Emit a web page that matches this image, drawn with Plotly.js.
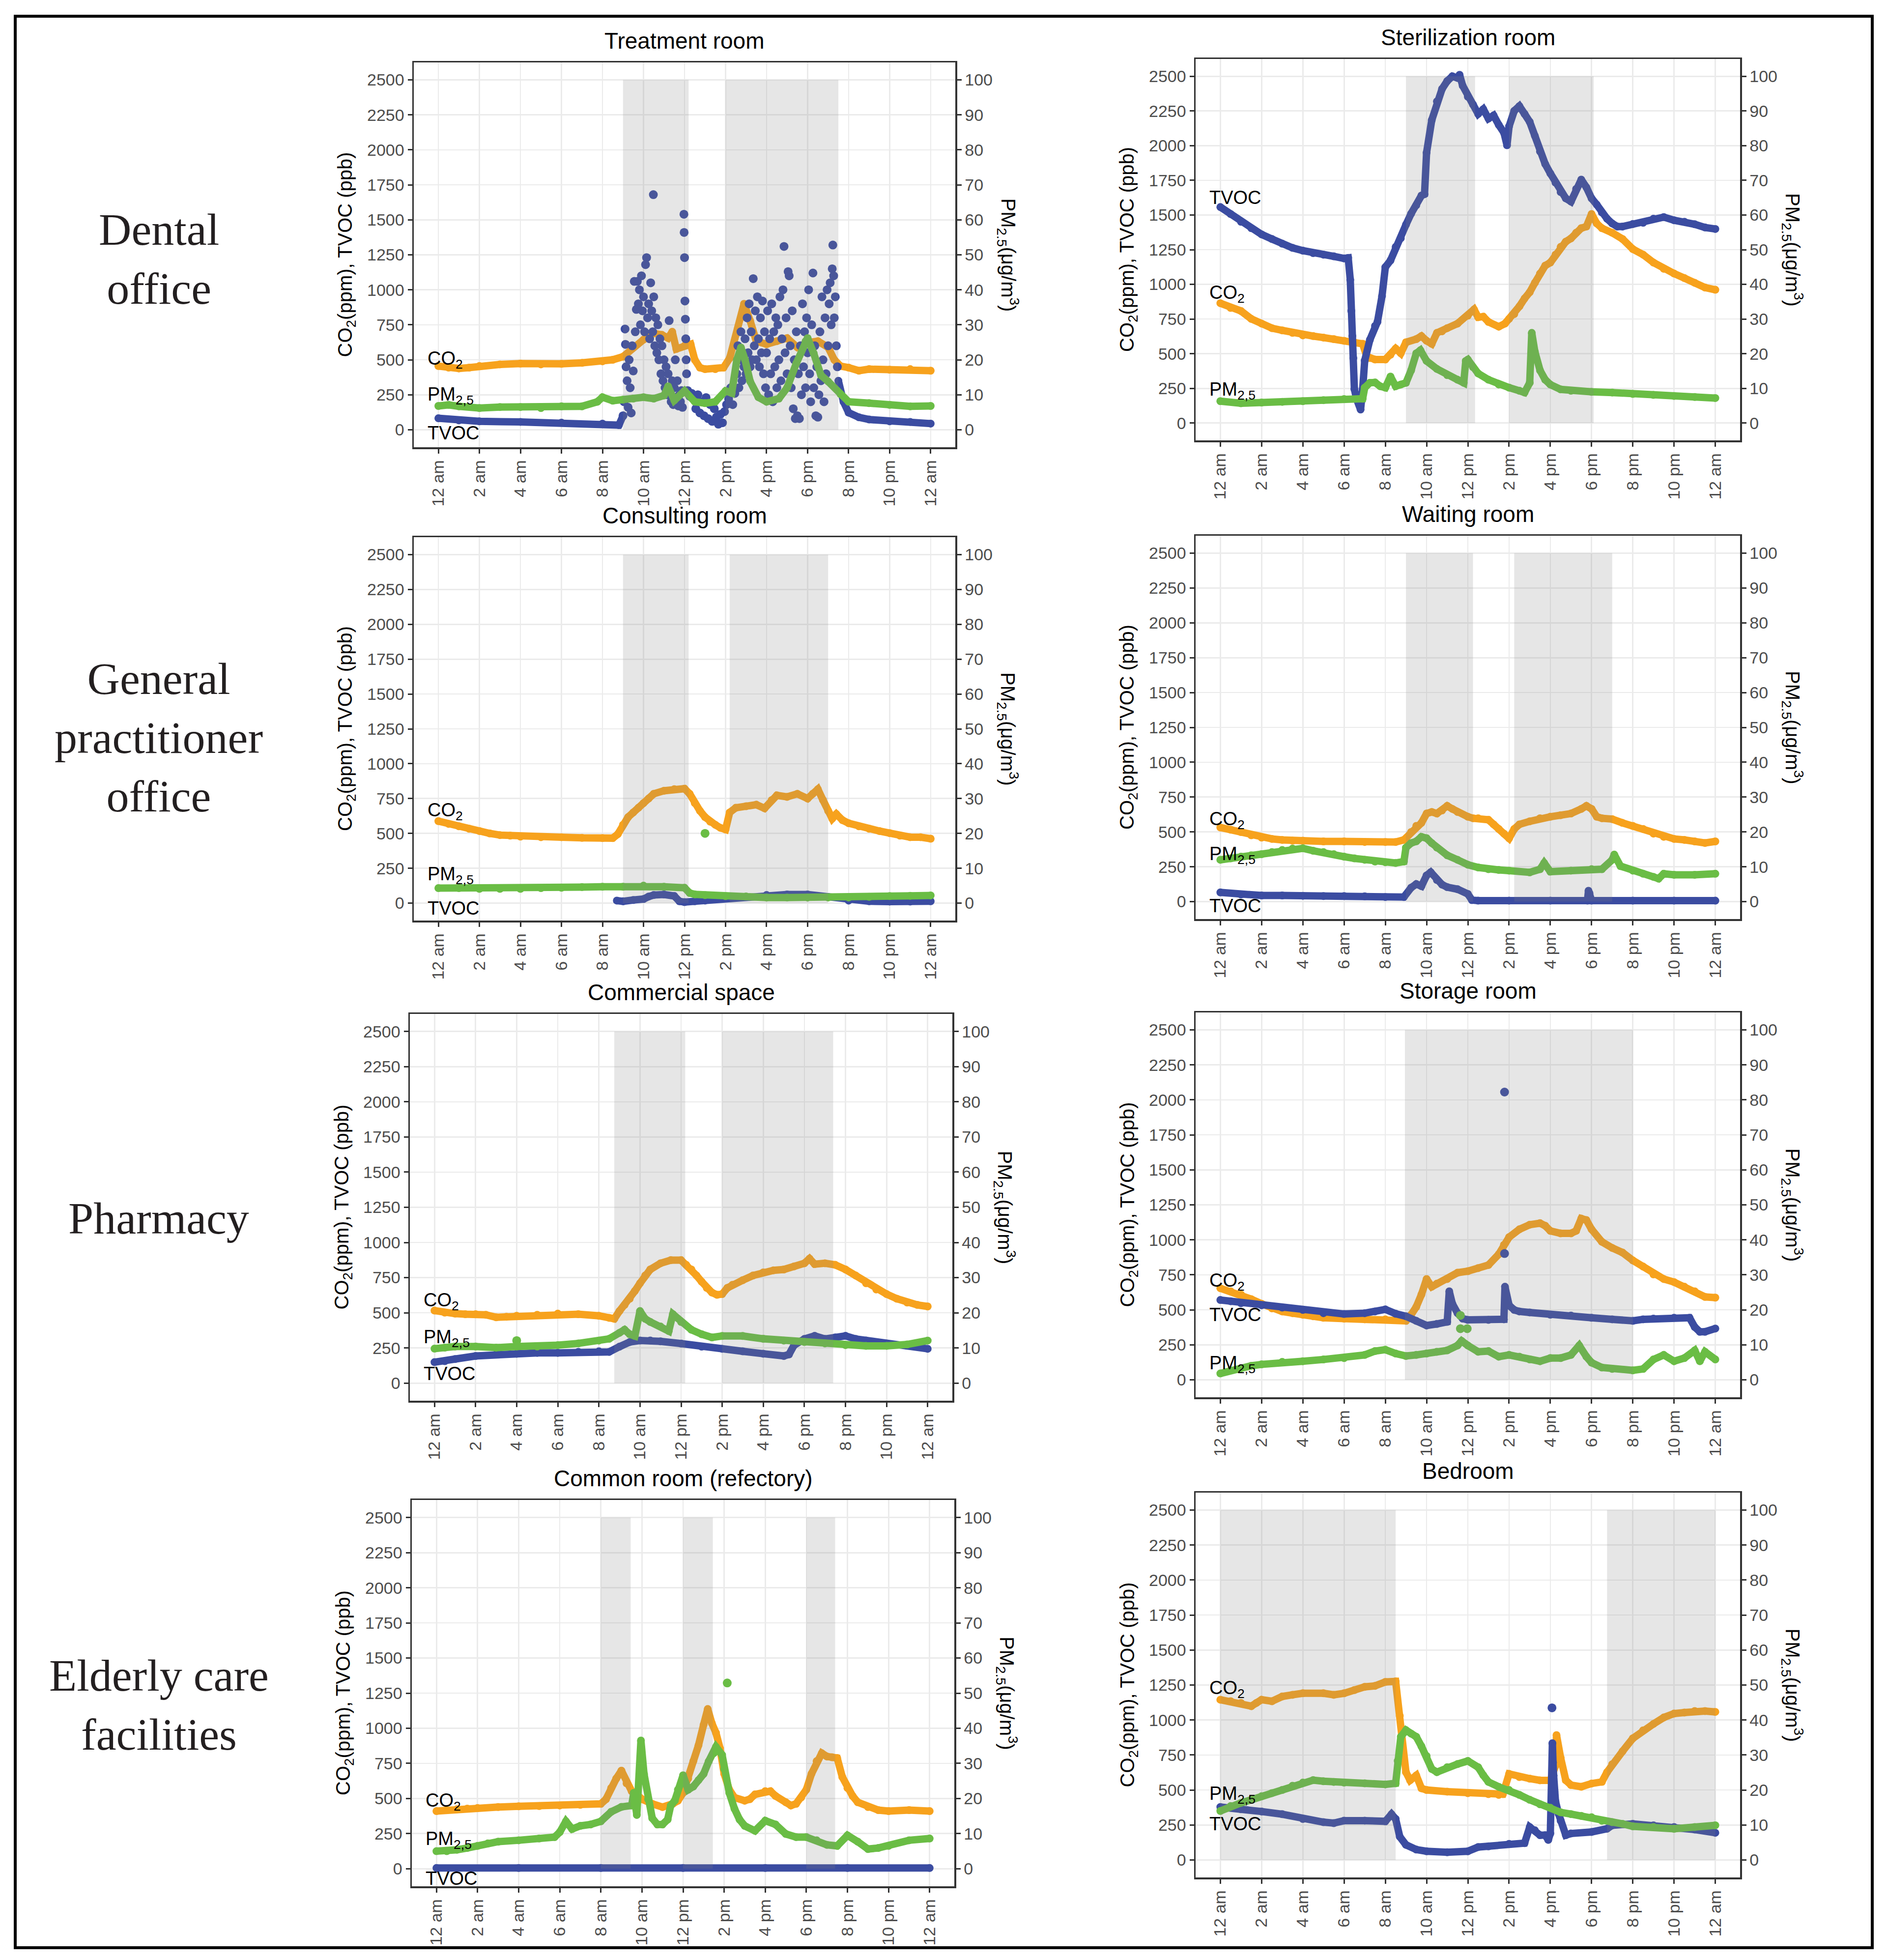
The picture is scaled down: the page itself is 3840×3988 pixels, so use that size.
<!DOCTYPE html>
<html><head><meta charset="utf-8">
<script src="https://cdn.plot.ly/plotly-3.0.1.min.js"></script>
<style>html,body{margin:0;padding:0;background:#fff}#chart{width:3840px;height:3988px}</style>
</head><body><div id="chart"></div>
<script>
// ---------- tick labels ----------
const xTickVals = [0,2,4,6,8,10,12,14,16,18,20,22,24];
const xTickText = ['12 am','2 am','4 am','6 am','8 am','10 am','12 pm','2 pm','4 pm','6 pm','8 pm','10 pm','12 am'];
const yLeftTicks = [0,250,500,750,1000,1250,1500,1750,2000,2250,2500];
const yRightTicks = [0,10,20,30,40,50,60,70,80,90,100];
const rowLabels = ['Dental<br>office','General<br>practitioner<br>office','Pharmacy','Elderly care<br>facilities'];
const panelTitles = ['Treatment room','Sterilization room','Consulting room','Waiting room','Commercial space','Storage room','Common room (refectory)','Bedroom'];

// ---------- Treatment room ----------
const treat_co2_t = [0,0.5,1,1.5,2,3,4,5,6,7,8,8.5,9,9.5,10,10.5,10.9,11.2,11.4,11.6,12,12.3,12.5,12.75,13,13.5,13.9,14.2,14.4,14.6,14.9,15.2,15.5,16,16.5,17,17.5,18,18.5,19,19.3,19.6,20,20.5,21,22,23,24];
const treat_co2 = [455,444,438,444,455,467,473,467,471,478,489,500,522,589,644,689,678,655,700,577,600,611,500,444,433,433,444,511,611,722,900,778,633,611,633,655,589,622,633,589,500,455,444,422,433,429,433,422];
const treat_pm_t = [0,0.5,1,2,3,4,5,6,7,7.75,8,8.5,9,9.5,10,10.5,11,11.2,11.5,12,12.5,13,13.5,14,14.3,14.55,14.75,14.95,15.2,15.6,16,16.6,17,17.45,17.9,18,18.3,18.65,19,19.6,20,21,22,23,24];
const treat_pm = [6.8,7.1,6.7,6.2,6.5,6.5,6.2,6.7,6.7,8.0,9.3,8.3,8.6,8.9,9.3,8.9,9.8,12.4,8.4,11.1,8.0,7.6,8.0,11.1,10.5,20.0,23.5,20.0,13.8,9.3,8.0,8.9,12.0,19.0,25.3,26.2,21.8,15.6,13.8,10.2,8.0,7.6,7.1,6.7,6.8];
const treat_tvoc_t = [0,1,2,4,6,8,8.8,9.0,null,19.5,19.75,20,20.5,21,22,23,24];
const treat_tvoc = [82,67,60,56,51,44,33,100,null,350,200,122,89,73,60,56,44];
const treat_tvoc_pts = [[9.0,100],[9.05,200],[9.1,720],[9.12,610],[9.15,450],[9.2,350],[9.25,160],[9.3,500],[9.35,300],[9.4,120],[9.45,600],[9.5,420],
[9.55,1060],[9.6,700],[9.65,860],[9.7,1060],[9.75,900],[9.8,1000],[9.85,750],[9.9,1100],[9.95,850],[10.0,950],[10.05,700],[10.1,1180],[10.15,1230],[10.2,800],[10.25,900],[10.3,650],[10.35,1050],[10.4,850],[10.45,700],[10.48,1680],[10.5,950],[10.55,600],[10.6,800],[10.65,550],[10.7,750],[10.75,500],[10.8,650],[10.85,400],[10.9,600],[10.95,350],[11.0,500],[11.05,300],[11.1,450],
[11.15,250],[11.2,400],[11.25,780],[11.3,300],[11.35,200],[11.4,350],[11.45,180],[11.5,300],[11.55,500],[11.6,220],[11.65,350],[11.7,170],[11.75,250],[11.8,200],[11.85,280],[11.9,160],
[11.97,1540],[11.98,1410],[12.0,1230],[12.02,920],[12.04,790],[12.06,650],[12.08,500],[12.1,400],
[12.15,280],[12.25,240],[12.35,260],[12.45,220],[12.55,150],[12.65,250],[12.75,120],[12.85,200],[12.95,100],[13.05,230],[13.15,80],[13.25,180],[13.35,60],[13.45,150],
[13.55,90],[13.65,40],[13.75,110],[13.85,50],[13.95,130],
[14.05,180],[14.15,220],[14.25,300],[14.35,180],[14.45,260],
[14.55,400],[14.6,600],[14.65,300],[14.7,500],[14.75,700],[14.8,350],[14.85,550],[14.9,450],[14.95,650],
[15.0,400],[15.05,800],[15.1,550],[15.15,900],[15.2,450],[15.25,700],[15.3,500],[15.35,1080],[15.4,600],[15.45,850],
[15.5,500],[15.55,950],[15.6,650],[15.65,450],[15.7,800],[15.75,550],[15.8,920],[15.85,400],[15.9,700],[15.95,300],
[16.0,550],[16.05,850],[16.1,250],[16.15,650],[16.2,400],[16.25,900],[16.3,200],[16.35,700],[16.4,450],[16.45,800],
[16.5,300],[16.55,750],[16.6,500],[16.65,950],[16.7,350],[16.75,650],[16.8,1000],[16.85,1310],[16.9,550],[16.95,800],[17.0,400],
[17.05,1130],[17.1,1100],[17.15,600],[17.2,300],[17.25,850],[17.3,150],[17.35,500],[17.4,80],[17.45,700],[17.5,100],
[17.55,400],[17.6,80],[17.65,600],[17.7,250],[17.75,900],[17.8,450],[17.85,700],[17.9,300],[17.95,800],
[18.0,550],[18.05,1000],[18.1,400],[18.15,200],[18.2,750],[18.26,1120],[18.3,300],[18.35,600],[18.4,100],[18.45,450],[18.5,90],
[18.55,250],[18.6,700],[18.65,350],[18.7,950],[18.75,500],[18.8,200],[18.85,800],[18.9,400],[18.95,1000],
[19.0,600],[19.05,900],[19.1,1050],[19.15,750],[19.2,1150],[19.23,1320],[19.27,1100],[19.3,800],[19.35,950],[19.4,600],[19.45,450]];

// ---------- Sterilization room ----------
const ster_tvoc_t = [0,0.5,1,1.5,2,2.5,3,3.5,4,4.5,5,5.5,6,6.2,6.3,6.35,6.4,6.45,6.5,6.6,6.8,6.9,7,7.25,7.5,7.62,7.84,8,8.25,8.5,8.75,9,9.25,9.5,9.75,9.9,10,10.25,10.5,10.75,11,11.25,11.5,11.6,11.75,12,12.25,12.5,12.75,13,13.25,13.5,13.75,13.9,14,14.25,14.5,14.75,15,15.25,15.5,15.75,16,16.25,16.5,16.75,17,17.25,17.5,17.75,18,18.25,18.5,18.75,19,19.25,19.5,20,20.5,21,21.5,22,22.5,23,23.5,24];
const ster_tvoc = [1557,1507,1451,1405,1360,1327,1293,1263,1243,1225,1214,1202,1187,1191,1033,808,627,469,244,176,97,244,450,600,700,730,916,1124,1172,1270,1332,1430,1510,1570,1640,1650,1950,2184,2319,2409,2466,2500,2488,2511,2432,2353,2297,2229,2263,2195,2218,2150,2094,2003,2139,2251,2285,2229,2172,2071,1958,1868,1800,1733,1665,1620,1597,1688,1755,1699,1620,1575,1518,1473,1439,1417,1417,1435,1444,1473,1485,1462,1451,1433,1410,1399];
const ster_co2_t = [0,0.5,1,1.5,2,2.5,3,3.5,4,4.5,5,5.5,6,6.5,6.9,7.1,7.25,7.5,8,8.25,8.5,8.75,9,9.5,9.75,10,10.25,10.5,10.75,11,11.5,12,12.3,12.5,12.75,13,13.5,13.8,14,14.25,14.5,14.75,15,15.25,15.5,15.75,16,16.25,16.5,16.75,17,17.25,17.5,17.75,18,18.25,18.5,19,19.5,20,20.5,21,21.5,22,22.5,23,23.5,24];
const ster_co2 = [864,830,808,751,717,684,668,650,632,627,616,605,593,582,571,480,469,458,458,492,537,503,582,605,627,593,571,650,661,684,717,774,819,763,767,729,695,717,751,785,841,898,943,1011,1078,1135,1157,1214,1270,1308,1331,1372,1405,1417,1507,1439,1405,1372,1327,1254,1214,1157,1112,1078,1045,1011,977,961];
const ster_pm_t = [0,1,2,3,4,5,6,6.9,7,7.25,7.5,7.75,8,8.25,8.5,8.75,9,9.25,9.5,9.7,10,10.5,11,11.5,11.8,11.9,12,12.25,12.5,13,13.5,14,14.5,14.75,15,15.1,15.25,15.5,15.75,16,16.5,17,18,19,20,21,22,23,24];
const ster_pm = [6.3,5.7,5.9,6.1,6.3,6.6,6.9,7.0,10.2,11.6,11.7,10.6,10.2,13.4,10.6,11.1,11.6,15.2,20.1,21.0,17.9,15.6,13.8,12.5,11.6,17.9,18.3,16.1,14.3,12.5,11.1,10.2,9.3,8.8,11.6,26.0,20.6,15.2,12.5,11.1,9.7,9.3,9.0,8.8,8.4,8.1,7.8,7.5,7.2];

// ---------- Consulting room ----------
const cons_co2_t = [0,0.5,1,1.5,2,2.5,3,3.5,4,5,6,7,8,8.5,8.75,9,9.25,9.5,9.75,10,10.25,10.5,11,11.5,12,12.25,12.5,12.75,13,13.25,13.5,13.75,14,14.2,14.5,15,15.5,15.9,16.25,16.5,17,17.5,18,18.25,18.5,18.75,19,19.2,19.4,19.7,20,20.5,21,21.5,22,22.5,23,23.5,24];
const cons_co2 = [588,568,551,533,517,500,488,484,477,473,473,468,466,466,495,562,617,650,684,717,750,784,806,817,821,784,717,662,617,584,562,540,528,650,684,695,706,680,739,773,762,784,750,784,817,739,662,606,639,595,573,551,533,517,502,484,473,473,462];
const cons_pm_t = [0,1,2,3,4,5,6,7,8,9,10,11,12,12.25,12.5,13,14,15,16,17,18,19,20,21,22,23,24];
const cons_pm = [4.3,4.3,4.1,4.1,4.1,4.3,4.4,4.6,4.7,4.7,5.0,4.7,4.4,2.9,2.5,2.3,2.0,1.9,1.6,1.6,1.6,1.6,1.6,1.8,2.0,2.1,2.2];
const cons_pm_out = [[13.0,20.0]];
const cons_tvoc_t = [8.7,9,9.5,10,10.25,10.5,11,11.5,11.75,12,12.5,13,13.5,14,15,16,17,18,19,20,21,22,23,24];
const cons_tvoc = [18,13,22,29,47,58,62,51,13,7,13,18,29,40,44,58,62,62,44,18,13,11,11,13];

// ---------- Waiting room ----------
const wait_co2_t = [0,0.5,1,1.5,2,2.5,3,3.5,4,5,6,7,8,8.5,8.9,9.25,9.5,9.75,10,10.25,10.5,10.75,11,11.25,11.5,12,12.25,12.5,13,13.25,13.5,13.75,14,14.25,14.5,15,15.5,16,16.5,17,17.5,17.75,18,18.25,18.5,19,19.5,20,20.5,21,21.5,22,22.5,23,23.5,24];
const wait_co2 = [532,516,499,476,459,450,443,437,437,432,432,428,428,428,443,499,543,565,632,643,632,654,687,665,643,609,598,598,587,554,521,488,454,521,554,576,598,609,620,632,665,687,665,609,598,592,565,543,521,488,465,450,443,432,421,432];
const wait_pm_t = [0,0.5,1,1.5,2,2.5,3,3.5,4,4.5,5,5.5,6,6.5,7,7.5,8,8.5,8.9,9,9.25,9.5,9.75,10,10.25,10.5,11,11.5,12,12.5,13,13.5,14,15,15.5,15.7,16,17,18,18.5,19,19.1,19.4,20,20.5,21,21.25,21.5,22,23,24];
const wait_pm = [12.0,12.4,12.9,13.3,13.6,14.2,14.8,15.2,15.3,14.6,14.2,13.6,12.9,12.4,12.0,11.5,11.3,11.1,11.5,15.5,16.8,17.3,18.6,18.2,16.8,15.5,13.3,12.0,10.6,9.8,9.3,9.1,8.9,8.4,9.3,11.1,8.6,8.9,9.3,9.3,12.0,13.5,10.2,8.9,8.0,7.1,6.6,8.0,7.7,7.7,8.0];
const wait_tvoc_t = [0,1,2,3,4,5,6,7,8,8.9,9.25,9.5,9.75,10,10.2,10.5,10.75,11,11.5,12,12.2,12.5,14,16,17.8,17.85,17.9,18,20,22,24];
const wait_tvoc = [66,51,44,44,42,40,40,38,33,33,100,126,111,188,211,155,122,104,89,55,11,7,7,7,7,78,60,7,7,7,7];

// ---------- Commercial space ----------
const com_co2_t = [0,0.5,1,1.5,2,2.5,3,3.5,4,5,6,7,8,8.5,8.75,9,9.25,9.5,9.75,10,10.25,10.5,11,11.5,12,12.25,12.5,12.75,13,13.25,13.5,13.75,14,14.25,14.5,15,15.5,16,16.5,17,17.5,18,18.25,18.5,19,19.5,20,20.5,21,21.5,22,22.5,23,23.5,24];
const com_co2 = [516,501,494,490,490,486,468,472,479,486,494,490,479,464,457,512,556,600,655,710,765,808,852,874,874,841,808,765,721,677,644,628,633,677,699,732,765,787,802,808,830,852,885,846,852,841,808,765,710,666,633,600,573,556,545];
const com_pm_t = [0,0.5,1,2,3,4,5,6,7,8,8.5,9,9.25,9.5,9.75,10,10.25,10.5,11,11.4,11.6,12,12.5,13,13.5,14,15,16,17,18,19,20,21,22,23,24];
const com_pm = [9.8,10.1,10.4,10.4,10.1,10.4,10.4,10.8,11.3,12.1,12.6,14.3,15.2,13.9,13.4,20.5,18.3,17.4,16.1,14.8,19.6,17.4,15.2,13.9,13.0,13.4,13.4,12.6,12.1,11.7,11.3,10.8,10.6,10.6,11.0,12.1];
const com_pm_out = [[4.0,12.1]];
const com_tvoc_t = [0,0.5,1,2,3,4,5,6,7,8,8.5,9,9.5,10,10.5,11,12,13,14,15,16,17,17.25,17.5,18,18.5,19,19.5,20,20.5,21,22,23,24];
const com_tvoc = [149,156,171,193,204,209,215,215,222,226,222,259,292,303,303,297,281,259,244,226,209,193,204,270,314,336,314,325,336,314,303,281,266,244];

// ---------- Storage room ----------
const stor_co2_t = [0,0.5,1,1.5,2,2.5,3,3.5,4,4.5,5,6,7,8,8.5,9,9.25,9.5,9.75,10,10.25,10.5,11,11.5,12,12.5,13,13.5,13.75,14,14.5,15,15.5,15.75,16,16.5,17,17.25,17.5,17.75,18,18.5,19,19.5,20,20.5,21,21.5,22,22.5,23,23.5,24];
const stor_co2 = [654,632,609,576,543,510,488,476,465,454,443,437,432,432,428,421,465,521,609,720,665,687,720,765,776,798,820,897,964,1019,1075,1108,1119,1101,1064,1046,1046,1064,1152,1141,1075,986,942,909,853,809,753,720,698,665,632,592,587];
const stor_tvoc_t = [0,0.5,1,2,3,4,5,6,7,7.5,8,8.5,9,9.5,10,10.5,11,11.1,11.25,11.5,11.75,12,13,13.75,13.8,14,14.25,14.5,15,16,17,18,19,20,20.5,21,22,22.75,23,23.25,23.5,24];
const stor_tvoc = [570,561,547,532,516,499,476,470,476,488,503,472,454,421,388,399,414,632,543,476,437,428,428,432,665,532,499,488,481,465,459,443,432,421,432,437,443,443,377,343,343,366];
const stor_tvoc_out = [[13.78,2056],[13.78,902]];
const stor_pm_t = [0,0.5,1,1.5,2,3,4,5,6,7,7.5,8,8.5,9,9.5,10,10.5,11,11.5,11.7,12,12.5,13,13.5,14,14.5,15,15.5,16,16.5,17,17.4,17.75,18,18.5,19,20,20.5,21,21.5,22,22.5,23,23.25,23.5,24];
const stor_pm = [1.8,2.7,3.3,4.0,4.4,5.1,5.3,5.8,6.2,7.1,8.2,8.6,7.5,6.8,7.1,7.5,8.0,8.4,9.8,11.1,9.8,8.0,8.2,6.6,7.1,6.6,5.8,5.3,6.2,6.2,7.1,9.8,6.6,4.9,3.5,3.1,2.7,3.1,5.8,7.1,5.3,6.2,8.4,5.3,8.0,5.8];
const stor_pm_out = [[11.64,18.4],[11.64,14.6],[11.97,14.6]];

// ---------- Common room (refectory) ----------
const comm_co2_t = [0,0.5,1,1.5,2,3,4,5,6,7,8,8.25,8.5,8.75,9,9.25,9.5,9.75,10,10.5,11,11.5,11.75,12,12.25,12.5,12.75,13,13.2,13.4,13.6,13.8,14,14.25,14.5,15,15.25,15.5,16,16.25,16.5,17,17.25,17.5,17.75,18,18.25,18.5,18.75,19,19.25,19.5,19.75,20,20.25,20.5,21,21.5,22,23,24];
const comm_co2 = [410,417,423,428,432,439,444,446,450,455,462,495,574,642,698,608,552,529,495,462,439,462,484,540,642,766,878,1025,1137,1036,968,856,676,563,507,484,495,529,552,552,518,473,450,462,507,563,676,766,822,799,793,788,653,574,518,473,439,417,410,417,410];
const comm_pm_t = [0,0.5,1,1.5,2,2.5,3,4,5,5.75,6,6.3,6.6,7,7.5,8,8.5,9,9.5,9.6,9.75,9.95,10.1,10.3,10.5,10.75,11,11.25,11.4,11.6,11.75,12,12.25,12.5,12.75,13,13.25,13.5,13.6,13.9,14,14.25,14.5,14.75,15,15.5,16,16.5,17,17.5,18,18.5,19,19.5,20,20.5,21,21.5,22,23,24];
const comm_pm = [5.0,5.0,5.4,5.9,6.5,7.2,7.7,8.1,8.6,9.0,10.4,13.5,11.3,12.2,12.6,13.5,16.2,17.6,18.0,21.6,15.3,36.5,27.0,19.8,14.4,12.6,12.6,14.0,18.0,19.4,22.5,26.6,22.5,23.4,25.2,27.0,30.6,32.9,34.7,32.4,28.4,21.6,17.1,14.0,12.2,10.8,13.7,12.6,9.9,9.0,9.0,8.1,6.8,6.5,9.5,7.7,5.6,5.9,6.5,8.1,8.6];
const comm_pm_out = [[14.15,52.9]];
const comm_tvoc_t = [0,4,8,12,16,20,24];
const comm_tvoc = [5,5,5,5,5,5,5];

// ---------- Bedroom ----------
const bed_co2_t = [0,0.5,1,1.5,1.75,2,2.5,3,3.5,4,5,5.5,6,6.5,7,7.5,8,8.5,8.7,8.8,9,9.2,9.5,9.75,10,11,12,13,13.5,13.7,14,14.5,15,15.5,16,16.25,16.3,16.5,16.75,17,17.5,18,18.5,18.75,19,19.5,20,20.5,21,21.5,22,22.5,23,23.5,24];
const bed_co2 = [1145,1134,1122,1099,1122,1145,1134,1168,1180,1191,1191,1180,1191,1214,1237,1244,1272,1276,1030,811,627,569,604,512,500,488,477,470,465,470,615,592,581,569,569,673,892,730,569,535,523,546,558,627,684,776,869,926,972,1018,1046,1053,1064,1064,1058];
const bed_pm_t = [0,0.5,1,1.5,2,2.5,3,3.5,4,4.5,5,5.5,6,7,8,8.5,8.6,8.75,9,9.25,9.5,9.75,10,10.25,10.5,11,11.5,12,12.5,12.75,13,13.5,14,14.5,15,15.5,16,16.5,17,17.5,18,18.5,19,19.5,20,21,22,23,24];
const bed_pm = [14.0,15.4,16.3,17.2,18.2,19.1,20.0,21.2,22.1,22.8,22.5,22.3,22.1,21.9,21.6,21.9,28.3,35.2,37.1,36.1,35.2,32.5,29.7,26.0,25.1,26.5,27.4,28.3,26.5,24.2,22.3,20.9,20.0,18.6,17.2,15.9,14.9,13.6,13.1,12.6,12.2,11.2,10.8,10.3,9.6,9.4,8.9,9.4,9.9];
const bed_tvoc_t = [0,0.5,1,2,3,4,5,5.5,6,7,8,8.3,8.5,8.7,9,9.5,10,11,12,12.5,13,14,14.75,15,15.25,15.5,15.75,15.9,16,16.1,16.13,16.16,16.2,16.25,16.4,16.5,16.75,17,18,18.75,19,20,21,22,23,24];
const bed_tvoc = [378,373,362,346,327,293,270,263,281,281,276,327,293,166,108,74,62,55,62,92,97,115,120,235,212,177,177,143,189,834,696,604,488,419,330,280,177,189,200,223,247,258,247,235,217,194];
const bed_tvoc_out = [[16.08,1087]];

// ---------- shaded periods (hours) ----------
const shade_treat = [[9,12.2],[14,19.5]];
const shade_ster = [[9,12.35],[14,18.1]];
const shade_cons = [[9,12.2],[14.2,19]];
const shade_wait = [[9,12.25],[14.25,19]];
const shade_com = [[8.75,12.2],[14,19.4]];
const shade_stor = [[8.95,20]];
const shade_comm = [[8,9.45],[12,13.45],[18,19.4]];
const shade_bed = [[0,8.5],[18.75,24]];

// ---------- layout / styling ----------
const W = 3840, H = 3988;
const C_CO2 = '#F7A21D', C_PM = '#6ABD45', C_TVOC = '#3B4CA1';
const SANS = 'Liberation Sans, Arial, sans-serif';
const SERIF = 'Liberation Serif, Times New Roman, serif';
// plot-area boxes in page pixels [left, right, top, bottom]
const boxes = [
  [842,1944,127,910],[2433,3541,120,896],
  [842,1944,1093,1873],[2433,3541,1090,1870],
  [834,1938,2063,2850],[2433,3541,2060,2843],
  [838,1942,3052,3838],[2433,3541,3037,3820]];
const rowLabelY = [527,1500,2479,3469];

const panels = [
  {co2:[treat_co2_t,treat_co2], pm:[treat_pm_t,treat_pm], tvoc:[treat_tvoc_t,treat_tvoc], tvocPts:treat_tvoc_pts, pmPts:null, shade:shade_treat, lab:{co2:500,pm:244,tvoc:-22}},
  {co2:[ster_co2_t,ster_co2], pm:[ster_pm_t,ster_pm], tvoc:[ster_tvoc_t,ster_tvoc], tvocPts:null, pmPts:null, shade:shade_ster, lab:{co2:932,pm:232,tvoc:1624}},
  {co2:[cons_co2_t,cons_co2], pm:[cons_pm_t,cons_pm], tvoc:[cons_tvoc_t,cons_tvoc], tvocPts:null, pmPts:cons_pm_out, shade:shade_cons, lab:{co2:657,pm:200,tvoc:-38}},
  {co2:[wait_co2_t,wait_co2], pm:[wait_pm_t,wait_pm], tvoc:[wait_tvoc_t,wait_tvoc], tvocPts:null, pmPts:null, shade:shade_wait, lab:{co2:583,pm:332,tvoc:-29}},
  {co2:[com_co2_t,com_co2], pm:[com_pm_t,com_pm], tvoc:[com_tvoc_t,com_tvoc], tvocPts:null, pmPts:com_pm_out, shade:shade_com, lab:{co2:582,pm:319,tvoc:66}},
  {co2:[stor_co2_t,stor_co2], pm:[stor_pm_t,stor_pm], tvoc:[stor_tvoc_t,stor_tvoc], tvocPts:stor_tvoc_out, pmPts:stor_pm_out, shade:shade_stor, lab:{co2:702,pm:111,tvoc:465}},
  {co2:[comm_co2_t,comm_co2], pm:[comm_pm_t,comm_pm], tvoc:[comm_tvoc_t,comm_tvoc], tvocPts:null, pmPts:comm_pm_out, shade:shade_comm, lab:{co2:477,pm:203,tvoc:-68}},
  {co2:[bed_co2_t,bed_co2], pm:[bed_pm_t,bed_pm], tvoc:[bed_tvoc_t,bed_tvoc], tvocPts:bed_tvoc_out, pmPts:null, shade:shade_bed, lab:{co2:1219,pm:465,tvoc:258}}
];

const traces = [], shapes = [], annotations = [];
const layout = {
  width: W, height: H, margin: {l:0, r:0, t:0, b:0},
  paper_bgcolor: '#ffffff', plot_bgcolor: '#ffffff', showlegend: false,
  font: {family: SANS}
};

const axisCommon = {
  showline: true, linecolor: '#333333', linewidth: 3.5,
  ticks: 'outside', ticklen: 9, tickwidth: 3, tickcolor: '#333333',
  tickfont: {family: SANS, size: 34, color: '#4D4D4D'},
  zeroline: false, fixedrange: true
};
const LW = 15, MS = 16, PS = 18;

panels.forEach((p, i) => {
  const k = i + 1, s = (k === 1 ? '' : String(k)), kr = k + 8;
  const xr = 'x' + s, yr = 'y' + s, yrR = 'y' + kr;
  const [L, R, T, B] = boxes[i];
  layout['xaxis' + s] = Object.assign({}, axisCommon, {
    domain: [L / W, R / W], anchor: yr, range: [-1.2, 25.2],
    tickmode: 'array', tickvals: xTickVals, ticktext: xTickText, tickangle: -90,
    showgrid: true, gridcolor: '#EBEBEB', gridwidth: 2.7, mirror: true
  });
  layout['yaxis' + s] = Object.assign({}, axisCommon, {
    domain: [1 - B / H, 1 - T / H], anchor: xr, range: [-125, 2625],
    tickmode: 'array', tickvals: yLeftTicks,
    showgrid: true, gridcolor: '#EBEBEB', gridwidth: 2.7, mirror: true
  });
  layout['yaxis' + kr] = Object.assign({}, axisCommon, {
    overlaying: yr, side: 'right', anchor: xr, range: [-5, 105],
    tickmode: 'array', tickvals: yRightTicks, showgrid: false
  });

  const line = (xy, color, yax) => ({
    x: xy[0], y: xy[1], xaxis: xr, yaxis: yax, type: 'scatter', mode: 'lines+markers',
    line: {color: color, width: LW}, marker: {color: color, size: MS}, connectgaps: false, hoverinfo: 'skip'
  });
  const pts = (arr, color, yax) => ({
    x: arr.map(d => d[0]), y: arr.map(d => d[1]), xaxis: xr, yaxis: yax, type: 'scatter', mode: 'markers',
    marker: {color: color, size: PS}, hoverinfo: 'skip'
  });
  traces.push(line(p.co2, C_CO2, yr));
  traces.push(line(p.tvoc, C_TVOC, yr));
  if (p.tvocPts) traces.push(pts(p.tvocPts, C_TVOC, yr));
  traces.push(line(p.pm, C_PM, yrR));
  if (p.pmPts) traces.push(pts(p.pmPts, C_PM, yrR));

  p.shade.forEach(r => shapes.push({
    type: 'rect', xref: xr, yref: yr, x0: r[0], x1: r[1], y0: 0, y1: 2500,
    fillcolor: 'rgba(128,128,128,0.2)', line: {width: 0}, layer: 'above'
  }));

  annotations.push({xref: 'paper', yref: 'paper', x: (L + R) / 2 / W, y: 1 - (T - 44) / H,
    text: panelTitles[i], showarrow: false, xanchor: 'center', yanchor: 'middle',
    font: {family: SANS, size: 46, color: '#000000'}});
  annotations.push({xref: 'paper', yref: 'paper', x: (L - 137) / W, y: 1 - (T + B) / 2 / H,
    text: 'CO<sub>2</sub>(ppm), TVOC (ppb)', textangle: -90, showarrow: false,
    xanchor: 'center', yanchor: 'middle', font: {family: SANS, size: 40, color: '#000000'}});
  annotations.push({xref: 'paper', yref: 'paper', x: (R + 107) / W, y: 1 - (T + B) / 2 / H,
    text: 'PM<sub>2.5</sub>(\u03bcg/m<sup>3</sup>)', textangle: 90, showarrow: false,
    xanchor: 'center', yanchor: 'middle', font: {family: SANS, size: 40, color: '#000000'}});
  const labs = [['CO<sub>2</sub>', p.lab.co2], ['PM<sub>2,5</sub>', p.lab.pm], ['TVOC', p.lab.tvoc]];
  labs.forEach(l => annotations.push({xref: xr, yref: yr, x: -0.57, y: l[1], text: l[0],
    showarrow: false, xanchor: 'left', yanchor: 'middle', font: {family: SANS, size: 38, color: '#000000'}}));
});

rowLabels.forEach((t, i) => annotations.push({xref: 'paper', yref: 'paper', x: 323 / W, y: 1 - rowLabelY[i] / H,
  text: t, showarrow: false, xanchor: 'center', yanchor: 'middle', align: 'center',
  font: {family: SERIF, size: 92, color: '#231F20'}}));

shapes.push({type: 'rect', xref: 'paper', yref: 'paper', x0: 31 / W, x1: 3810 / W, y0: 1 - 3963 / H, y1: 1 - 33 / H,
  line: {color: '#000000', width: 6}, fillcolor: 'rgba(0,0,0,0)', layer: 'above'});

layout.shapes = shapes;
layout.annotations = annotations;
Plotly.newPlot('chart', traces, layout, {staticPlot: true, displayModeBar: false});
</script>
</body></html>
